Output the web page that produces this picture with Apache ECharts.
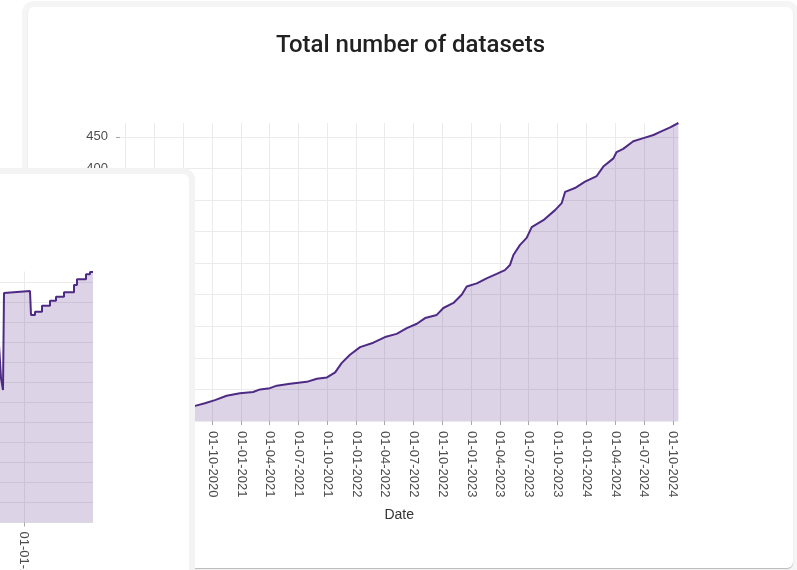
<!DOCTYPE html>
<html>
<head>
<meta charset="utf-8">
<title>Total number of datasets</title>
<script src="https://cdn.jsdelivr.net/npm/echarts@6.0.0/dist/echarts.min.js"></script>
<style>
html, body {
    margin: 0;
    padding: 0;
    width: 797px;
    height: 570px;
    overflow: hidden;
    background: #fff;
    position: relative;
}

.card {
    position: absolute;
    background: #fff;
    border-radius: 6px;
    overflow: hidden;
}

/* main card */
.main-card {
    left: 28px;
    top: 7px;
    width: 765px;
    height: 561px;
    box-shadow: 0 1px 1px rgba(0, 0, 0, 0.25), 0 0 0 6px #f5f5f5;
}

/* the other card lying over the left part */
.side-card {
    left: -260px;
    top: 174px;
    width: 449px;
    height: 420px;
    box-shadow: 0 0 0 6px #f3f3f3;
    z-index: 2;
}

#main {
    width: 765px;
    height: 561px;
}

#side {
    width: 449px;
    height: 396px;
}
</style>
</head>
<body>
    <div class="card main-card">
        <div id="main"></div>
    </div>
    <div class="card side-card">
        <div id="side"></div>
    </div>

<script>
// total datasets over time
const dates = [
    '2020-07-20', '2020-08-08', '2020-09-08', '2020-10-10', '2020-11-16', '2020-12-28',
    '2021-02-08', '2021-03-02', '2021-04-02', '2021-04-24', '2021-06-05', '2021-07-28',
    '2021-08-29', '2021-09-30', '2021-10-26', '2021-11-16', '2021-12-12', '2022-01-13',
    '2022-02-24', '2022-04-02', '2022-05-09', '2022-06-10', '2022-07-12', '2022-08-07',
    '2022-09-13', '2022-10-04', '2022-11-05', '2022-12-01', '2022-12-17', '2023-01-18',
    '2023-02-18', '2023-03-22', '2023-04-17', '2023-05-03', '2023-05-14', '2023-06-04',
    '2023-06-25', '2023-07-11', '2023-08-17', '2023-09-23', '2023-10-14', '2023-10-25',
    '2023-11-25', '2023-12-27', '2024-02-02', '2024-02-23', '2024-03-26', '2024-04-05',
    '2024-04-26', '2024-05-28', '2024-06-29', '2024-07-31', '2024-08-21', '2024-09-22',
    '2024-10-18',
]
const totals = [
    22, 24, 28, 33, 40, 44,
    46, 50, 52, 56, 59, 62,
    67, 69, 77, 92, 105, 117,
    124, 133, 138, 147, 154, 163,
    168, 179, 187, 200, 213, 218,
    226, 233, 239, 247, 263, 279,
    290, 307, 318, 334, 345, 363,
    369, 379, 388, 403, 416, 426,
    431, 443, 448, 453, 458, 465,
    472,
]
const quarterTicks = [
    '2020-01-01', '2020-04-01', '2020-07-01', '2020-10-01',
    '2021-01-01', '2021-04-01', '2021-07-01', '2021-10-01',
    '2022-01-01', '2022-04-01', '2022-07-01', '2022-10-01',
    '2023-01-01', '2023-04-01', '2023-07-01', '2023-10-01',
    '2024-01-01', '2024-04-01', '2024-07-01', '2024-10-01',
]
const yTicks = [0, 50, 100, 150, 200, 250, 300, 350, 400, 450]

// the chart on the card in front (only its right end shows)
const sideDates = [
    '2023-12-05', '2023-12-07', '2023-12-09', '2023-12-11', '2023-12-12', '2024-01-07',
    '2024-01-08', '2024-01-12', '2024-01-12', '2024-01-19', '2024-01-19', '2024-01-27',
    '2024-01-27', '2024-02-02', '2024-02-02', '2024-02-10', '2024-02-10', '2024-02-20',
    '2024-02-20', '2024-02-23', '2024-02-23', '2024-03-03', '2024-03-03', '2024-03-07',
    '2024-03-07', '2024-03-10',
]
const sideValues = [
    105.5, 105.2, 72.2, 66.2, 114.8, 115.7,
    103.8, 103.8, 105.4, 105.4, 108.4, 108.4,
    110.9, 110.9, 112.9, 112.9, 115.1, 115.1,
    118.8, 118.8, 121.6, 121.6, 124.1, 124.1,
    125.2, 125.2,
]
const sideTicks = ['2023-10-01', '2024-01-01']
const sideYTicks = [0, 10, 20, 30, 40, 50, 60, 70, 80, 90, 100, 110, 120]

const purple = '#4e2a84'
const gridColor = '#ebebeb'
const tickColor = '#a8a8a8'
const labelFont = {
    fontFamily: '"Liberation Sans", Arial, sans-serif',
    fontSize: 13,
    color: '#4d4d4d',
}

// 'yyyy-mm-dd' -> ms (local time)
const toTime = (s) => {
    const [y, m, d] = s.split('-').map(Number)
    return new Date(y, m - 1, d).getTime()
}

// ms -> dd-mm-yyyy
const fmtDate = (v) => {
    const d = new Date(v)
    const p = (n) => String(n).padStart(2, '0')
    return p(d.getDate()) + '-' + p(d.getMonth() + 1) + '-' + d.getFullYear()
}

const lineSeries = (xs, ys) => ({
    type: 'line',
    data: xs.map((x, i) => [toTime(x), ys[i]]),
    symbol: 'none',
    lineStyle: { color: purple, width: 2 },
    areaStyle: { color: purple, opacity: 0.2 },
})

// date axis drawn on a value scale so the ticks sit on the quarter starts
const dateAxis = (min, max, ticks, margin) => {
    const tickValues = ticks.map(toTime)
    return {
        type: 'value',
        min: toTime(min),
        max: toTime(max),
        axisLine: { show: false },
        axisTick: { show: true, length: 4, lineStyle: { color: tickColor }, customValues: tickValues },
        axisLabel: { customValues: tickValues, rotate: -90, margin: margin, formatter: fmtDate, ...labelFont },
        splitLine: { show: true, lineStyle: { color: gridColor, width: 1 } },
    }
}

const countAxis = (max, ticks) => ({
    type: 'value',
    min: 0,
    max: max,
    axisLine: { show: false },
    axisTick: { show: true, length: 4, lineStyle: { color: tickColor }, customValues: ticks },
    axisLabel: { customValues: ticks, margin: 12, ...labelFont },
    splitLine: { show: true, lineStyle: { color: gridColor, width: 1 } },
})

const mainChart = echarts.init(document.getElementById('main'))
mainChart.setOption({
    animation: false,
    title: {
        text: 'Total number of datasets',
        left: 'center',
        top: 22,
        textStyle: {
            fontFamily: 'Roboto, sans-serif',
            fontWeight: 500,
            fontSize: 24,
            color: '#212121',
        },
    },
    grid: { left: 92, top: 116, width: 558.4, height: 298, outerBoundsMode: 'none' },
    xAxis: {
        ...dateAxis('2019-12-14', '2024-10-18', quarterTicks, 10),
        name: 'Date',
        nameLocation: 'middle',
        nameGap: 87,
        nameTextStyle: {
            fontFamily: '"Liberation Sans", Arial, sans-serif',
            fontSize: 14,
            color: '#333',
        },
    },
    yAxis: countAxis(472, yTicks),
    series: [lineSeries(dates, totals)],
})

const sideChart = echarts.init(document.getElementById('side'))
sideChart.setOption({
    animation: false,
    grid: { left: 110, top: 97.5, width: 243, height: 251, outerBoundsMode: 'none' },
    xAxis: dateAxis('2023-07-11', '2024-03-10', sideTicks, 9),
    yAxis: countAxis(125.5, sideYTicks),
    series: [lineSeries(sideDates, sideValues)],
})
</script>
</body>
</html>
